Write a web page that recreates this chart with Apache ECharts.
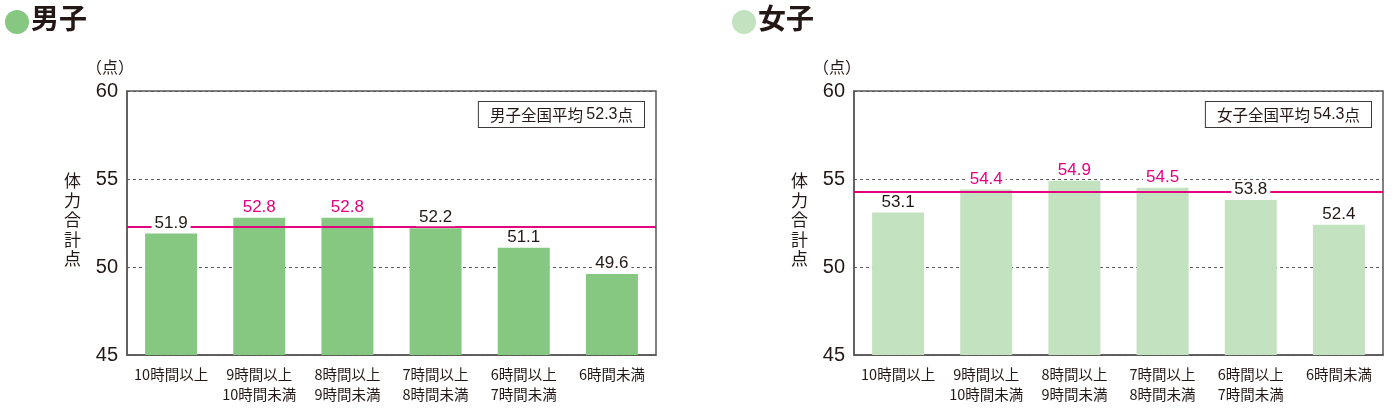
<!DOCTYPE html>
<html><head><meta charset="utf-8">
<script src="https://cdn.jsdelivr.net/npm/echarts@6/dist/echarts.min.js"></script>
<style>html,body{margin:0;padding:0;background:#fff}#c{width:1398px;height:412px}</style>
</head><body><div id="c"></div>
<script>
const categories = ['10時間以上', '9時間以上\n10時間未満', '8時間以上\n9時間未満', '7時間以上\n8時間未満', '6時間以上\n7時間未満', '6時間未満'];
const maleValues = [51.9, 52.8, 52.8, 52.2, 51.1, 49.6];
const femaleValues = [53.1, 54.4, 54.9, 54.5, 53.8, 52.4];
const maleAverage = 52.3;
const femaleAverage = 54.3;
const yTicks = [45, 50, 55, 60];

const FONT = '"Noto Sans CJK JP", "Noto Sans", sans-serif';
const LATIN = '"Liberation Sans", Arial, sans-serif';
const DARK = '#231815';
const PINK = '#e4007f';
const MALE_C = '#86c881';
const FEMALE_C = '#c3e2bf';

function xAxis(i){return {type:'category',gridIndex:i,data:categories,
  axisLine:{show:true,lineStyle:{color:'#595757',width:1.5}},axisTick:{show:false},
  axisLabel:{color:DARK,fontSize:14.5,lineHeight:20,margin:9,fontFamily:FONT,interval:0}};}
function yAxis(i){return {type:'value',gridIndex:i,min:yTicks[0],max:yTicks[yTicks.length-1],interval:5,
  axisLine:{show:true,lineStyle:{color:'#595757',width:1.5}},axisTick:{show:false},
  axisLabel:{color:DARK,fontSize:20,margin:9,fontFamily:LATIN},
  splitLine:{show:true,lineStyle:{color:'#595757',type:[3,3],width:1}}};}
function bars(i,vals,color,avg){return [
  {type:'bar',xAxisIndex:i,yAxisIndex:i,data:vals,barWidth:52,itemStyle:{color:color},z:2,silent:true,
   markLine:{silent:true,symbol:'none',z:3,label:{show:false},lineStyle:{color:PINK,width:2,type:'solid'},data:[{yAxis:avg}]}},
  {type:'bar',xAxisIndex:i,yAxisIndex:i,barWidth:52,barGap:'-100%',itemStyle:{color:'rgba(0,0,0,0)'},z:10,silent:true,
   label:{show:true,position:'top',distance:2,fontSize:17,fontFamily:LATIN,
     backgroundColor:'#fff',padding:[0,3],
     formatter:p=>p.value.toFixed(1)},
   data:vals.map(v=>({value:v,label:{color:v>avg?PINK:DARK}}))}
];}

function decor(x0,title,circleColor,prefix,avg,legendRight){return [
  {type:'circle',shape:{cx:x0+17,cy:22,r:12},style:{fill:circleColor}},
  {type:'text',left:x0+31,top:4,style:{text:title,font:'bold 28px '+FONT,fill:DARK}},
  {type:'text',left:x0+86,top:59,style:{text:'（点）',font:'16px '+FONT,fill:DARK}},
  {type:'text',left:x0+64,top:171,style:{text:'体\n力\n合\n計\n点',font:'17px '+FONT,fill:DARK,lineHeight:19.5}},
  {type:'text',right:legendRight,top:101,z:20,style:{
     text:'{a|'+prefix+'全国平均 }{b|'+avg.toFixed(1)+'}{a|点}',
     rich:{a:{fontFamily:FONT,fontSize:15.5,fill:DARK,lineHeight:20},b:{fontFamily:LATIN,fontSize:16,fill:DARK,lineHeight:20}},
     backgroundColor:'#fff',borderColor:'#3e3a39',borderWidth:1,padding:[3,11,2,11]}}
];}

const chart = echarts.init(document.getElementById('c'));
chart.setOption({
  animation:false,
  grid:[{left:127,top:91,width:529,height:264,show:true,borderColor:'#595757',borderWidth:1.5},
        {left:854,top:91,width:529,height:264,show:true,borderColor:'#595757',borderWidth:1.5}],
  xAxis:[xAxis(0),xAxis(1)],
  yAxis:[yAxis(0),yAxis(1)],
  series:[...bars(0,maleValues,MALE_C,maleAverage),...bars(1,femaleValues,FEMALE_C,femaleAverage)],
  graphic:[...decor(0,'男子',MALE_C,'男子',maleAverage,1398-645),
           ...decor(727,'女子',FEMALE_C,'女子',femaleAverage,1398-1372)]
});
</script></body></html>
